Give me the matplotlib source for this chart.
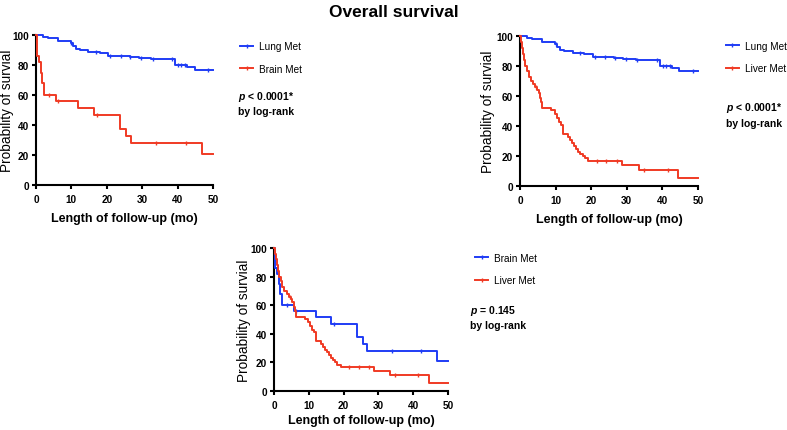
import numpy as np
import matplotlib
matplotlib.use("Agg")
import matplotlib.pyplot as plt
from matplotlib.lines import Line2D

plt.rcParams['font.family'] = ['Liberation Sans', 'DejaVu Sans']
plt.rcParams['mathtext.fontset'] = 'custom'
plt.rcParams['mathtext.it'] = 'Liberation Sans:italic:bold'
plt.rcParams['mathtext.rm'] = 'Liberation Sans:bold'

BLUE = '#1f3cf5'
RED = '#f03a24'

# Kaplan-Meier steps (months, % surviving after the step)
lung_t = [0, 2.0, 3.5, 6.3, 9.8, 10.5, 11.2, 12.4, 14.8, 18.0, 20.4, 26.5, 29.0, 32.6, 39.2, 42.6, 44.8]
lung_s = [100, 99, 98, 96, 95, 93, 91, 90, 89, 88, 86, 85.5, 85, 84, 80, 79, 76.5]
lung_cens = [10, 17, 21, 24, 26.6, 29.8, 33, 38.5, 40.2, 41, 42, 48.5]

brain_t = [0, 0.3, 0.8, 1.3, 1.8, 2.3, 5.6, 12.0, 16.5, 23.7, 25.5, 26.8, 46.8]
brain_s = [100, 86, 82, 75, 68, 60, 56, 51.5, 47, 37.5, 33, 28, 21]
brain_cens = [3.8, 6.3, 17.3, 33.9, 42.3]

liver_t = [0, 0.3, 0.6, 0.9, 1.2, 1.5, 1.9, 2.4, 3.0, 3.6,
           4.3, 4.9, 5.3, 5.6, 5.9, 6.2, 8.8, 9.8, 10.4, 11.0,
           11.6, 12.2, 13.4, 14.0, 14.6, 15.2, 15.8, 16.4, 17.0, 17.6,
           18.2, 19.2, 28.6, 33.3, 44.5]
liver_s = [100, 96, 92, 88, 84, 80, 77, 73, 70, 68,
           66, 64, 62, 59, 56, 52, 50.5, 48, 45.5, 43,
           41, 35, 33, 31, 29, 27, 25, 23, 21.5, 20,
           18.5, 17, 14, 11, 5.5]
liver_cens = [4.5, 21.5, 24.3, 27.2, 34.8, 41.5]

X_END = 50


def km(ax, t, s, cens, color):
    x = list(t) + [X_END]
    y = list(s) + [s[-1]]
    ax.step(x, y, where='post', color=color, lw=1.4, clip_on=False, zorder=3)
    idx = np.searchsorted(t, cens, side='right') - 1
    ax.plot(cens, np.array(s)[idx], ls='none', marker='|', ms=3.5, mew=1.0,
            color=color, zorder=3)


def style(ax, ylab_x, xpad=6):
    ax.set_xlim(0, 50)
    ax.set_ylim(0, 100)
    ax.set_xticks([0, 10, 20, 30, 40, 50])
    ax.set_yticks([0, 20, 40, 60, 80, 100])
    for sp in ['top', 'right']:
        ax.spines[sp].set_visible(False)
    for sp in ['left', 'bottom']:
        ax.spines[sp].set_linewidth(1.5)
    ax.tick_params(width=1.5, length=3, pad=2, labelsize=7.2)
    ax.tick_params(axis='x', pad=3.5)
    for lab in ax.get_xticklabels() + ax.get_yticklabels():
        lab.set_fontweight('bold')
    ax.set_ylabel('Probability of survial', fontsize=9.8)
    ax.yaxis.set_label_coords(ylab_x, 0.5)
    ax.set_xlabel('Length of follow-up (mo)', fontsize=9, fontweight='bold', labelpad=xpad)


def legend(ax, labels, colors, x, y):
    handles = [Line2D([0], [0], color=c, lw=1.4, marker='|', ms=3.5, mew=1.0) for c in colors]
    ax.legend(handles, labels, loc='upper left', bbox_to_anchor=(x, y), frameon=False,
              fontsize=7.2, handlelength=1.3, handletextpad=0.6, labelspacing=1.25,
              borderaxespad=0, borderpad=0)


def ptext(ax, s, x, y):
    ax.text(x, y, s, transform=ax.transAxes, fontsize=7.5, fontweight='bold',
            ha='left', va='center', linespacing=1.4)


fig = plt.figure(figsize=(7.87, 4.31), dpi=100)

ax1 = fig.add_axes([0.0457, 0.5684, 0.2249, 0.348])
km(ax1, lung_t, lung_s, lung_cens, BLUE)
km(ax1, brain_t, brain_s, brain_cens, RED)
style(ax1, -0.125)
legend(ax1, ['Lung Met', 'Brain Met'], [BLUE, RED], 1.155, 0.96)
ptext(ax1, '$p$ < 0.0001*\nby log-rank', 1.14, 0.55)

ax2 = fig.add_axes([0.6607, 0.5661, 0.2262, 0.348])
km(ax2, lung_t, lung_s, lung_cens, BLUE)
km(ax2, liver_t, liver_s, liver_cens, RED)
style(ax2, -0.14)
legend(ax2, ['Lung Met', 'Liver Met'], [BLUE, RED], 1.155, 0.97)
ptext(ax2, '$p$ < 0.0001*\nby log-rank', 1.155, 0.48)

ax3 = fig.add_axes([0.3482, 0.0905, 0.2211, 0.3318])
km(ax3, brain_t, brain_s, brain_cens, BLUE)
km(ax3, liver_t, liver_s, liver_cens, RED)
style(ax3, -0.13, xpad=3)
legend(ax3, ['Brain Met', 'Liver Met'], [BLUE, RED], 1.155, 0.965)
ptext(ax3, '$p$ = 0.145\nby log-rank', 1.125, 0.52)

fig.text(0.5, 0.97, 'Overall survival', ha='center', va='center',
         fontsize=12.5, fontweight='bold')

fig.savefig('out.png', dpi=100)
